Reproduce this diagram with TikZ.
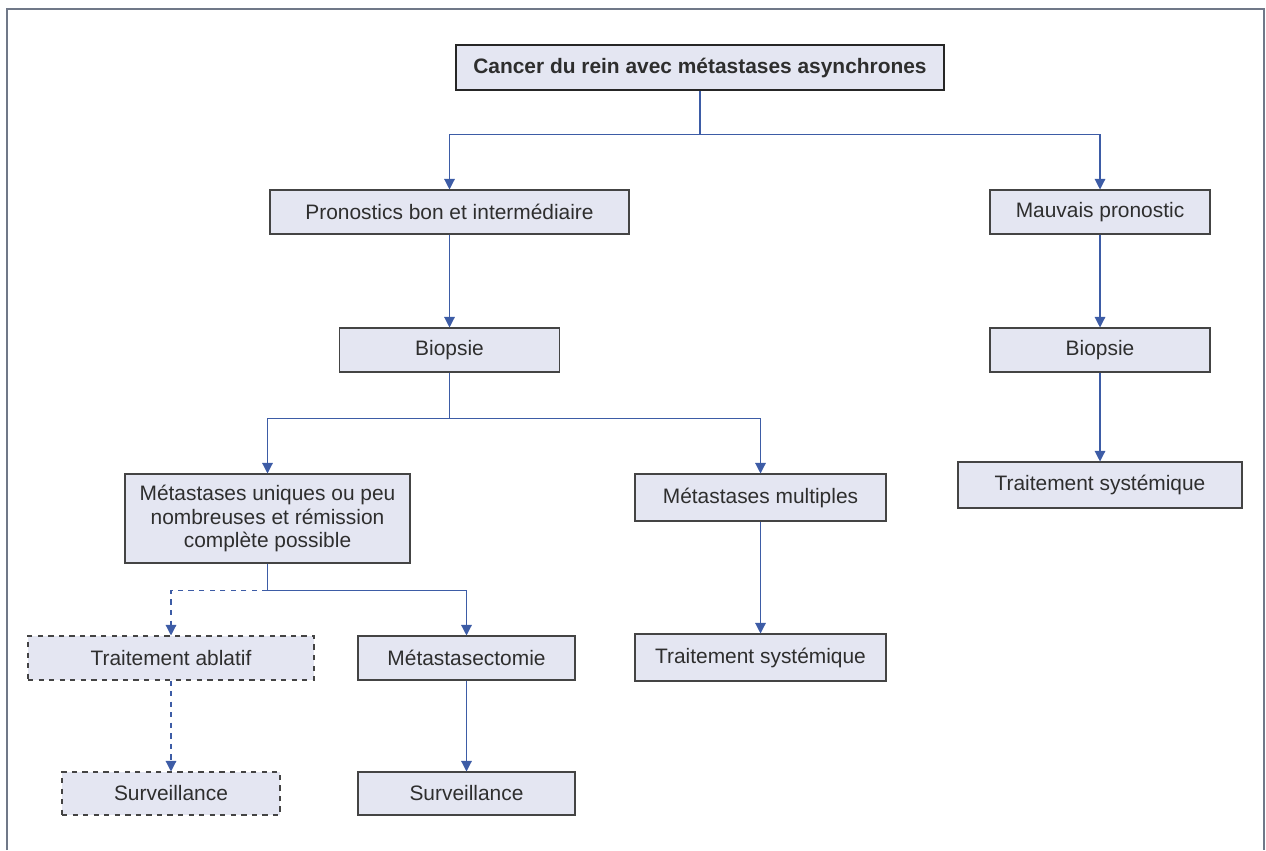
\documentclass[tikz,border=0pt]{standalone}
\usepackage{fontspec}
\setmainfont{Liberation Sans}
\usepackage{tikz}
\usetikzlibrary{arrows.meta}

\definecolor{boxfill}{HTML}{E4E6F2}
\definecolor{boxline}{HTML}{444444}
\definecolor{linkblue}{HTML}{3D5CA6}
\definecolor{framegray}{HTML}{707888}
\definecolor{textgray}{HTML}{2E2E2E}

\begin{document}
\begin{tikzpicture}[node distance=2.76cm,>={Triangle[width=6pt,length=6pt]}]

	\tikzstyle{etape}=[rectangle,draw=boxline,fill=boxfill,line width=0.6pt,minimum height=0.88cm,text=textgray,font=\fontsize{11.9}{13.4}\selectfont,align=center]
	\tikzstyle{option}=[etape,dashed]
	\tikzstyle{lien}=[draw=linkblue,line width=0.7pt]

	\useasboundingbox (0,0) rectangle (25.32,-17);
	\draw[framegray,line width=1.2pt] (0.14,-17) -- (0.14,-0.18) -- (25.28,-0.18) -- (25.28,-17);

	\node [etape,draw=black!85,line width=1.6pt,minimum width=9.76cm,minimum height=0.9cm,font=\fontsize{11.9}{13.4}\selectfont\bfseries] (cancer) at (14.0,-1.35) {Cancer du rein avec métastases asynchrones};

	\node [etape,minimum width=7.18cm] (pronbon) at (8.99,-4.24) {Pronostics bon et intermédiaire};
	\node [etape,minimum width=4.4cm] (pronmauv) at (22.0,-4.24) {Mauvais pronostic};

	\node [etape,minimum width=4.4cm] (biopg) [below of=pronbon] {Biopsie};
	\node [etape,minimum width=4.4cm] (biopd) [below of=pronmauv] {Biopsie};
	\node [etape,minimum width=5.68cm,minimum height=0.92cm] (systd) [below of=biopd,node distance=2.7cm] {Traitement systémique};

	\node [etape,minimum width=5.7cm,minimum height=1.78cm] (uniques) at (5.35,-10.37) {Métastases uniques ou peu\\nombreuses et rémission\\complète possible};
	\node [etape,minimum width=5.02cm,minimum height=0.94cm] (multiples) at (15.21,-9.95) {Métastases multiples};
	\node [etape,minimum width=5.02cm,minimum height=0.94cm] (systm) [below of=multiples,node distance=3.2cm] {Traitement systémique};

	\node [option,minimum width=5.72cm] (ablatif) at (3.42,-13.16) {Traitement ablatif};
	\node [etape,minimum width=4.34cm] (mtsc) at (9.33,-13.16) {Métastasectomie};

	\node [option,minimum width=4.36cm,minimum height=0.86cm] (survg) [below of=ablatif,node distance=2.71cm] {Surveillance};
	\node [etape,minimum width=4.34cm,minimum height=0.86cm] (survd) [below of=mtsc,node distance=2.71cm] {Surveillance};

	% liens
	\draw [lien] (cancer.south) -- ++(0,-0.86) coordinate (csplit);
	\draw [lien,->] (csplit) -| (pronbon.north);
	\draw [lien,->] (csplit) -| (pronmauv.north);

	\draw [lien,->] (pronbon) -- (biopg);
	\draw [lien,->] (pronmauv) -- (biopd);
	\draw [lien,->] (biopd) -- (systd);

	\draw [lien] (biopg.south) -- ++(0,-0.92) coordinate (bsplit);
	\draw [lien,->] (bsplit) -| (uniques.north);
	\draw [lien,->] (bsplit) -| (multiples.north);
	\draw [lien,->] (multiples) -- (systm);

	\draw [lien] (uniques.south) -- ++(0,-0.54) coordinate (usplit);
	\draw [lien,->] (usplit) -| (mtsc.north);
	\draw [lien,dashed,->] (usplit) -| (ablatif.north);

	\draw [lien,dashed,->] (ablatif) -- (survg);
	\draw [lien,->] (mtsc) -- (survd);
\end{tikzpicture}
\end{document}
